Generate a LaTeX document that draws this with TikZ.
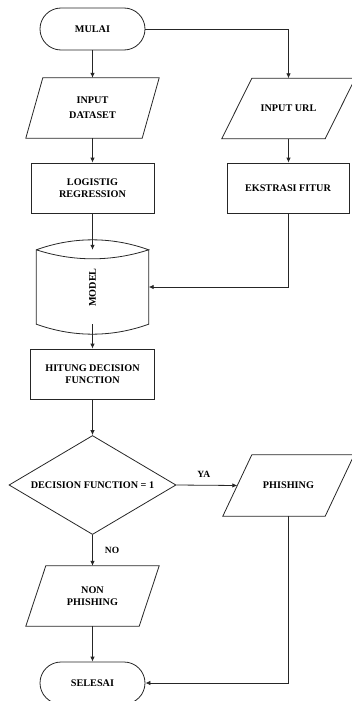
\documentclass[tikz,border=0pt]{standalone}
\usepackage{fontspec}
\setmainfont{Liberation Serif}
\usetikzlibrary{shapes.geometric,shapes.misc,arrows.meta}
\begin{document}
\begin{tikzpicture}[x=1pt,y=-1pt,
 every node/.style={font=\fontsize{10.2}{12}\selectfont\bfseries, align=center, inner sep=0pt},
 line/.style={draw=black!85, line width=0.8pt},
 arr/.style={line, -{Latex[length=5pt,width=4.5pt]}},
 term/.style={line, rounded rectangle, minimum width=105pt, minimum height=42pt},
 proc/.style={line, rectangle, minimum height=50pt},
 io/.style={minimum height=60pt, minimum width=133pt},
 dec/.style={line, diamond, minimum width=167pt, minimum height=99pt, aspect=1.69},
 lbl/.style={font=\fontsize{9.5}{10}\selectfont\bfseries}]
\useasboundingbox (0,0) rectangle (351,701);

\node[term] (mulai) at (92.5,29) {MULAI};
\node[io] (ind) at (92.5,108) {INPUT\\[3pt]DATASET};
\node[io] (url) at (288.5,108.5) {INPUT URL};
\node[proc, minimum width=123pt] (lr) at (92.5,188) {LOGISTIG\\REGRESSION};
\node[proc, minimum width=122pt] (ef) at (288,188) {EKSTRASI FITUR};
\node[minimum width=112pt, minimum height=74pt] (model) at (92.5,287) {};
\node[rotate=90] (modeltext) at (92.5,287.5) {MODEL};
\node[proc, minimum width=124pt] (hdf) at (92.5,374) {HITUNG DECISION\\FUNCTION};
\node[dec] (dec) at (92.5,485) {DECISION FUNCTION = 1};
\node[io, minimum width=131pt, minimum height=61pt] (ph) at (288.5,485.5) {PHISHING};
\node[io] (nph) at (92.5,596) {NON\\PHISHING};
\node[term] (sel) at (92.5,683) {SELESAI};

% parallelograms
\foreach \n/\s in {ind/17,url/30,ph/29,nph/20}
  \draw[line] ([xshift=\s pt]\n.north west) -- (\n.north east)
     -- ([xshift=-\s pt]\n.south east) -- (\n.south west) -- cycle;

% model (stored data / cylinder)
\draw[line] (model.north west) .. controls +(37,-13.3) and +(-37,-13.3) .. (model.north east)
   .. controls +(-37,12) and +(37,12) .. (model.north west)
   -- (model.south west) .. controls +(37,13.3) and +(-37,13.3) .. (model.south east)
   -- (model.north east);

% connectors
\draw[arr] (mulai.south) -- (ind.north);
\draw[arr] (mulai.east) -| (url.north);
\draw[arr] (ind.south) -- (lr.north);
\draw[arr] (url.south) -- (url.south |- ef.north);
\draw[arr] (lr.south) -- (model.north);
\draw[arr] (ef.south) |- (model.east);
\draw[arr] (model.south) -- (hdf.north);
\draw[arr] (hdf.south) -- (dec.north);
\draw[arr] (dec.east) -- node[lbl, pos=0.45, above=7pt] {YA} ([xshift=14.5pt]ph.west);
\draw[arr] (dec.south) -- node[lbl, right=12pt] {NO} (nph.north);
\draw[arr] (nph.south) -- (sel.north);
\draw[arr] (ph.south) |- (sel.east);
\end{tikzpicture}
\end{document}
